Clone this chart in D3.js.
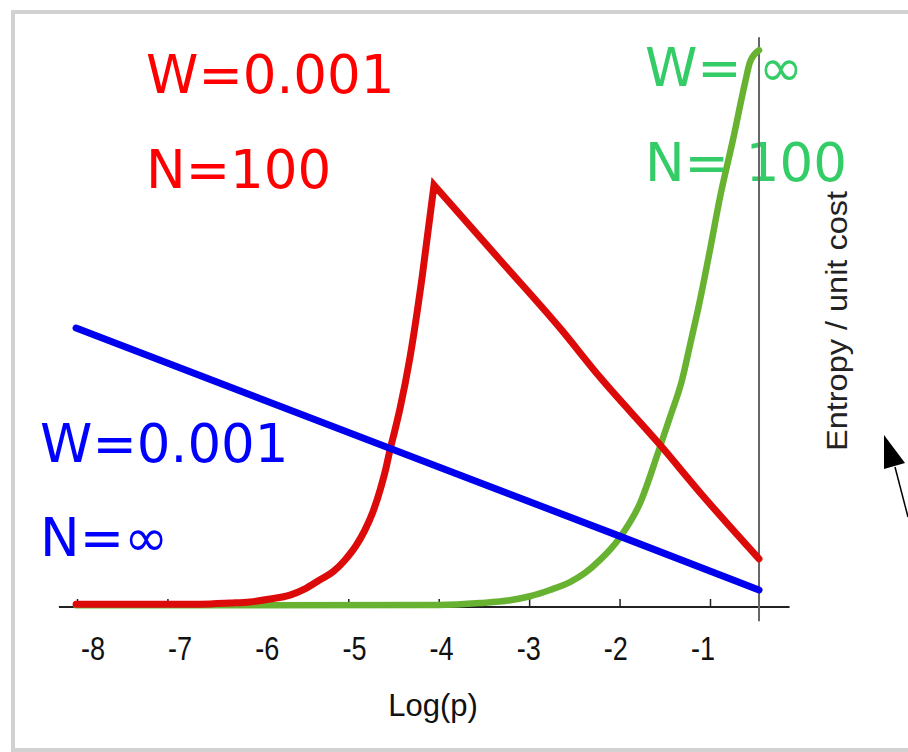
<!DOCTYPE html>
<html><head><meta charset="utf-8">
<script src="https://cdn.jsdelivr.net/npm/d3@7"></script>
<style>body{margin:0;background:#fff} svg{display:block}</style>
</head><body><svg id="c" width="908" height="752"></svg>
<script>
// ---- data ----
const xTicks = [-8, -7, -6, -5, -4, -3, -2, -1];
const tickLabels = ["-8", "-7", "-6", "-5", "-4", "-3", "-2", "-1"];
const xTitle = "Log(p)";
const yTitle = "Entropy / unit cost";

// W=0.001, N=∞ (blue)
const blueX = [-8.01, -6, -4, -2, -0.458];
const blueY = [4.92, 3.69, 2.47, 1.25, 0.30];

// W=0.001, N=100 (red) — rising branch then falling branch (peak shared)
const redRiseX = [-8.01, -6.64, -6.308, -6.087, -5.866, -5.645, -5.479, -5.313, -5.169, -5.036, -4.915, -4.815, -4.727, -4.649, -4.583, -4.539, -4.484, -4.428, -4.318, -4.185, -4.052];
const redRiseY = [0.05, 0.05, 0.07, 0.09, 0.14, 0.21, 0.32, 0.48, 0.62, 0.83, 1.08, 1.36, 1.68, 2.06, 2.45, 2.77, 3.12, 3.50, 4.40, 5.80, 7.44];
const redFallX = [-4.052, -3.322, -2.659, -2.216, -1.553, -1.111, -0.458];
const redFallY = [7.44, 6.12, 4.92, 4.05, 2.86, 2.02, 0.85];

// W=∞, N=100 (green)
const greenX = [-8.01, -6, -4, -3.543, -3.212, -2.991, -2.770, -2.548, -2.382, -2.216, -1.995, -1.774, -1.575, -1.442, -1.310, -1.221, -1.111, -1.000, -0.889, -0.746, -0.613, -0.558, -0.458];
const greenY = [0.03, 0.03, 0.035, 0.07, 0.12, 0.19, 0.30, 0.44, 0.60, 0.83, 1.23, 1.83, 2.72, 3.35, 4.00, 4.62, 5.41, 6.30, 7.23, 8.24, 9.24, 9.61, 9.82];

const annotations = [
  {text: "W=0.001", color: "#ff0000", x: -7.237, y: 9.06},
  {text: "N=100",   color: "#ff0000", x: -7.237, y: 7.39},
  {text: "W=0.001", color: "#0000ff", x: -8.409, y: 2.56},
  {text: "N=∞",     color: "#0000ff", x: -8.409, y: 0.90},
  {text: "W= ∞",    color: "#33cc66", x: -1.719, y: 9.19},
  {text: "N= 100",  color: "#33cc66", x: -1.719, y: 7.51}
];

// ---- drawing ----
const svg = d3.select("#c");
const x = d3.scaleLinear().domain([-8, -1]).range([77, 710]);
const xLab = d3.scaleLinear().domain([-8, -1]).range([93, 703]);
const y = d3.scaleLinear().domain([0, 10]).range([607, 40]);
const xEnd = -0.458;

// frame
svg.append("rect").attr("x", 13).attr("y", 12).attr("width", 920).attr("height", 738)
  .attr("fill", "#fff").attr("stroke", "#d2d2d2").attr("stroke-width", 4);

// annotations
svg.selectAll("text.ann").data(annotations).enter().append("text")
  .attr("class", "ann")
  .attr("x", d => x(d.x)).attr("y", d => y(d.y))
  .attr("fill", d => d.color)
  .style("font-family", "'DejaVu Sans', sans-serif")
  .style("font-size", "53px")
  .text(d => d.text);

// axis line
svg.append("line").attr("x1", x(-8.2)).attr("x2", x(-0.12))
  .attr("y1", y(0)).attr("y2", y(0)).attr("stroke", "#222").attr("stroke-width", 2);
// ticks
const ax = d3.axisBottom(x).tickValues(xTicks).tickSize(-8).tickFormat("");
const g = svg.append("g").attr("transform", `translate(0,${y(0)})`).call(ax);
g.select(".domain").remove();
g.selectAll(".tick line").attr("stroke", "#222").attr("stroke-width", 1.5);

// vertical axis at right end
svg.append("line").attr("x1", x(xEnd)).attr("x2", x(xEnd))
  .attr("y1", y(10.05)).attr("y2", y(-0.25)).attr("stroke", "#666").attr("stroke-width", 2);

// tick labels (condensed)
svg.selectAll("text.tl").data(xTicks).enter().append("text")
  .attr("class", "tl")
  .attr("x", d => xLab(d)).attr("y", 660)
  .attr("text-anchor", "middle")
  .style("font-family", "'Liberation Sans', Arial, sans-serif")
  .style("font-size", "33px").attr("fill", "#111")
  .text((d, i) => tickLabels[i])
  .each(function() {
    const w = this.getComputedTextLength();
    d3.select(this).attr("textLength", w * 0.82).attr("lengthAdjust", "spacingAndGlyphs");
  });

svg.append("text").attr("x", 433).attr("y", 716).attr("text-anchor", "middle")
  .style("font-family", "'Liberation Sans', Arial, sans-serif")
  .style("font-size", "31px").attr("fill", "#111").text(xTitle);

svg.append("text").attr("transform", "translate(847,321) rotate(-90)")
  .attr("text-anchor", "middle")
  .style("font-family", "'Liberation Sans', Arial, sans-serif")
  .style("font-size", "30px").attr("fill", "#222")
  .attr("textLength", 260).attr("lengthAdjust", "spacingAndGlyphs")
  .text(yTitle);

// lines
const mk = (xs, ys) => xs.map((v, i) => [v, ys[i]]);
const lin = d3.line().x(d => x(d[0])).y(d => y(d[1]));
const smooth = d3.line().x(d => x(d[0])).y(d => y(d[1])).curve(d3.curveMonotoneX);

svg.append("path").attr("d", smooth(mk(greenX, greenY))).attr("fill", "none")
  .attr("stroke", "#68b232").attr("stroke-width", 6.5).attr("stroke-linecap", "round").attr("stroke-linejoin", "round");
const redPath = smooth(mk(redRiseX, redRiseY)) + smooth(mk(redFallX, redFallY)).replace(/^M[^A-Za-z]*/, "");
svg.append("path").attr("d", redPath).attr("fill", "none")
  .attr("stroke", "#dd0a0a").attr("stroke-width", 7).attr("stroke-linecap", "round").attr("stroke-linejoin", "miter");
svg.append("path").attr("d", lin(mk(blueX, blueY))).attr("fill", "none")
  .attr("stroke", "#0000ee").attr("stroke-width", 7).attr("stroke-linecap", "round");

// arrow (decoration at right edge)
svg.append("line").attr("x1", 908).attr("y1", 517).attr("x2", 895).attr("y2", 467)
  .attr("stroke", "#000").attr("stroke-width", 1.5);
svg.append("path").attr("d", d3.line()([[884, 435], [884, 469], [905, 463]]) + "Z").attr("fill", "#000");
</script></body></html>
